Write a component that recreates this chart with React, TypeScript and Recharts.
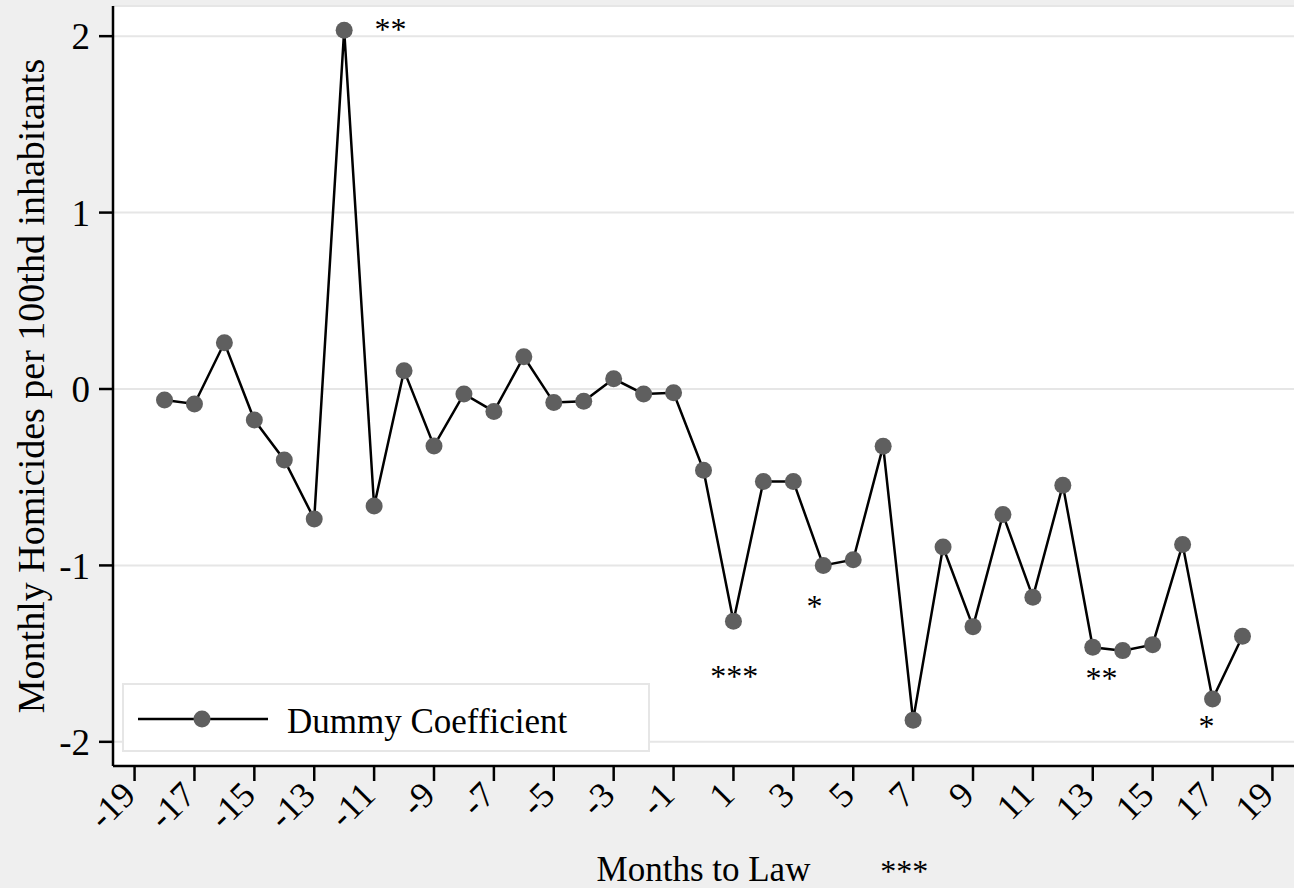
import React from "react";
import { CartesianGrid, Legend, Line, LineChart, ReferenceDot, XAxis, YAxis } from "recharts";

const months = [
  -18, -17, -16, -15, -14, -13, -12, -11, -10, -9, -8, -7, -6, -5, -4, -3, -2, -1,
  0, 1, 2, 3, 4, 5, 6, 7, 8, 9, 10, 11, 12, 13, 14, 15, 16, 17, 18,
];
const coefficients = [
  -0.062, -0.085, 0.262, -0.176, -0.402, -0.737, 2.034, -0.663, 0.104, -0.323, -0.028, -0.127,
  0.183, -0.077, -0.07, 0.058, -0.028, -0.021,
  -0.46, -1.316, -0.524, -0.524, -1.0, -0.968, -0.324, -1.877, -0.896, -1.347, -0.712, -1.18,
  -0.545, -1.464, -1.483, -1.449, -0.881, -1.757, -1.402,
];

const xTicks = [-19, -17, -15, -13, -11, -9, -7, -5, -3, -1, 1, 3, 5, 7, 9, 11, 13, 15, 17, 19];
const yTicks = [-2, -1, 0, 1, 2];

// significance stars placed next to the coefficients
const starX = [-10.45, 1.03, 3.71, 13.29, 16.8, 6.7];
const starY = [2.04, -1.627, -1.23, -1.637, -1.91, -2.73];
const starText = ["**", "***", "*", "**", "*", "***"];

const data = months.map((m, i) => ({ month: m, coef: coefficients[i] }));

const FONT = "'Liberation Serif', 'Times New Roman', serif";
const MARKER = "#5f5f5f";

function MonthTick({ x, y, payload }: any) {
  return (
    <g transform={`translate(${x + 3},${y + 14})`}>
      <text transform="rotate(-45)" textAnchor="end" fontSize={36} fill="#000">
        {payload.value}
      </text>
    </g>
  );
}

function YTitle({ viewBox }: any) {
  const cx = (viewBox?.x ?? 0) + 31;
  const cy = (viewBox?.y ?? 6) + (viewBox?.height ?? 760) / 2;
  return (
    <text
      x={cx}
      y={cy}
      transform={`rotate(-90 ${cx} ${cy})`}
      textAnchor="middle"
      dominantBaseline="central"
      fontSize={38}
      fill="#000"
    >
      Monthly Homicides per 100thd inhabitants
    </text>
  );
}

function LegendBox() {
  return (
    <div
      style={{
        width: 528,
        height: 69,
        boxSizing: "border-box",
        border: "2px solid #e6e6e6",
        background: "#fff",
      }}
    >
      <svg width={524} height={65} style={{ display: "block" }}>
        <line x1={14} x2={144} y1={34} y2={34} stroke="#000" strokeWidth={2.5} />
        <circle cx={78} cy={34} r={8.5} fill={MARKER} />
        <text x={163} y={48} fontSize={35} fill="#000" fontFamily={FONT}>
          Dummy Coefficient
        </text>
      </svg>
    </div>
  );
}

export default function App() {
  return (
    <div
      style={{
        position: "absolute",
        left: 0,
        top: 0,
        width: 1294,
        height: 888,
        background: "#efefef",
        fontFamily: FONT,
        overflow: "hidden",
      }}
    >
      <LineChart width={1294} height={888} data={data} margin={{ top: 6, right: 0, bottom: 0, left: 0 }}>
        <CartesianGrid fill="#fff" vertical={false} stroke="#e6e6e6" strokeWidth={2} />
        <XAxis
          dataKey="month"
          type="number"
          domain={[-19.72, 19.72]}
          ticks={xTicks}
          interval={0}
          allowDataOverflow
          height={122}
          tickSize={15}
          tickMargin={2}
          tick={<MonthTick />}
          axisLine={{ stroke: "#000", strokeWidth: 2.5 }}
          tickLine={{ stroke: "#000", strokeWidth: 2.5 }}
          label={{ value: "Months to Law", position: "insideBottom", offset: 7, fontSize: 35, fill: "#000" }}
        />
        <YAxis
          type="number"
          domain={[-2.137, 2.171]}
          ticks={yTicks}
          interval={0}
          allowDataOverflow
          width={113}
          tickSize={14}
          tickMargin={9}
          tick={{ fontSize: 37, fill: "#000" }}
          axisLine={{ stroke: "#000", strokeWidth: 2.5 }}
          tickLine={{ stroke: "#000", strokeWidth: 2.5 }}
          label={<YTitle />}
        />
        <Legend
          layout="horizontal"
          verticalAlign="middle"
          align="center"
          content={<LegendBox />}
          wrapperStyle={{ left: 122, top: 683, width: 528, height: 69 }}
        />
        <Line
          type="linear"
          dataKey="coef"
          name="Dummy Coefficient"
          stroke="#000"
          strokeWidth={2.5}
          dot={{ r: 8.5, fill: MARKER, stroke: "none" }}
          activeDot={false}
          isAnimationActive={false}
        />
        {starText.map((t, i) => (
          <ReferenceDot
            key={i}
            x={starX[i]}
            y={starY[i]}
            r={0}
            fill="none"
            stroke="none"
            ifOverflow="visible"
            label={{ value: t, position: "center", fontSize: 32, fill: "#000" }}
          />
        ))}
      </LineChart>
    </div>
  );
}
